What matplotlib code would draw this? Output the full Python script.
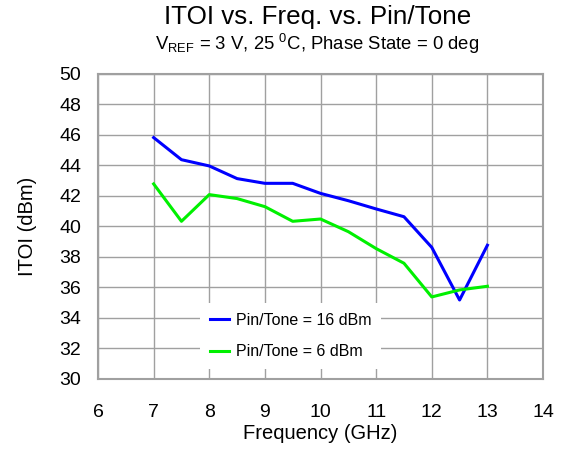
import matplotlib
matplotlib.use("Agg")
from matplotlib import pyplot as plt

plt.rcParams['font.family'] = ['Liberation Sans', 'DejaVu Sans']
plt.rcParams['mathtext.fontset'] = 'custom'
plt.rcParams['mathtext.rm'] = 'Liberation Sans'
plt.rcParams['mathtext.it'] = 'Liberation Sans'

freq = [7, 7.5, 8, 8.5, 9, 9.5, 10, 10.5, 11, 11.5, 12, 12.5, 13]
itoi_16dbm = [45.83, 44.38, 43.97, 43.14, 42.83, 42.83, 42.17, 41.69,
              41.15, 40.64, 38.63, 35.18, 38.77]
itoi_6dbm = [42.79, 40.34, 42.09, 41.83, 41.30, 40.34, 40.49, 39.66,
             38.55, 37.59, 35.38, 35.84, 36.08]
x_ticks = [6, 7, 8, 9, 10, 11, 12, 13, 14]
y_ticks = [30, 32, 34, 36, 38, 40, 42, 44, 46, 48, 50]


def main():
    fig = plt.figure(figsize=(5.64, 4.5), dpi=100)
    ax = fig.add_axes([0.1738, 0.1578, 0.789, 0.6778])

    ax.plot(freq, itoi_16dbm, color='#0000ff', lw=2.2,
            label="Pin/Tone = 16 dBm", zorder=3)
    ax.plot(freq, itoi_6dbm, color='#00f000', lw=2.2,
            label="Pin/Tone = 6 dBm", zorder=3)

    ax.set_xlim(6, 14)
    ax.set_ylim(30, 50)
    ax.set_xticks(x_ticks)
    ax.set_yticks(y_ticks)
    ax.tick_params(length=0, labelsize=14)
    ax.tick_params(axis='x', pad=18)
    ax.tick_params(axis='y', pad=12)
    ax.grid(True, color='#a0a0a0', lw=1.0)
    ax.set_axisbelow(True)
    for s in ax.spines.values():
        s.set_color('#a0a0a0')
        s.set_linewidth(1.5)

    ax.set_xlabel("Frequency (GHz)", fontsize=14.5, labelpad=2.5)
    ax.set_ylabel("ITOI (dBm)", fontsize=14.5, labelpad=16)

    cx = 0.563
    fig.text(cx, 0.962, "ITOI vs. Freq. vs. Pin/Tone", ha='center',
             va='center', fontsize=18.7)
    fig.text(cx, 0.903,
             "V$_{REF}$ = 3 V, 25 $^0$C, Phase State = 0 deg",
             ha='center', va='center', fontsize=13.3)

    leg = ax.legend(loc='lower center', bbox_to_anchor=(0.433, 0.033),
                    fontsize=11.5, frameon=True, handlelength=1.2,
                    handletextpad=0.45, labelspacing=1.05, borderpad=0.6,
                    borderaxespad=0, fancybox=False)
    leg.get_frame().set_edgecolor('none')
    leg.get_frame().set_facecolor('white')
    leg.get_frame().set_alpha(1)

    fig.savefig("out.png", dpi=100)


if __name__ == '__main__':
    main()
